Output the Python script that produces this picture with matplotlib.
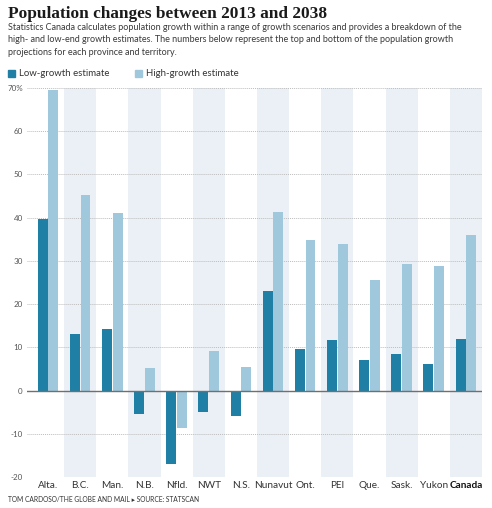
import matplotlib
matplotlib.use("Agg")
import matplotlib.pyplot as plt
import numpy as np

categories = ["Alta.", "B.C.", "Man.", "N.B.", "Nfld.", "NWT", "N.S.", "Nunavut",
              "Ont.", "PEI", "Que.", "Sask.", "Yukon", "Canada"]
low_growth = [39.7, 13.0, 14.2, -5.4, -17.0, -4.9, -6.0, 23.0, 9.6, 11.6, 7.0, 8.5, 6.2, 12.0]
high_growth = [69.6, 45.2, 41.1, 5.3, -8.7, 9.2, 5.5, 41.4, 34.9, 33.8, 25.5, 29.2, 28.9, 36.1]
y_ticks = [-20, -10, 0, 10, 20, 30, 40, 50, 60, 70]
y_tick_labels = ["-20", "-10", "0", "10", "20", "30", "40", "50", "60", "70%"]

LOW = "#1f7fa5"
HIGH = "#9fc8dc"
BAND = "#eaf0f5"
BODY = "Lato"

W, H = 492, 508
fig = plt.figure(figsize=(W / 100, H / 100), dpi=100)
fig.patch.set_facecolor("white")
renderer = fig.canvas.get_renderer()


def fit_text(xpx, ypx, s, target_px, **kw):
    t = fig.text(xpx / W, 1 - ypx / H, s, **kw)
    w = t.get_window_extent(renderer).width
    t.set_fontsize(t.get_fontsize() * target_px / w)
    return t


ax_left, ax_right = 27 / W, 482 / W
ax_top, ax_bot = 1 - 88 / H, 1 - 477 / H
ax = fig.add_axes([ax_left, ax_bot, ax_right - ax_left, ax_top - ax_bot])

x = np.arange(len(categories))
for i in x:
    if i % 2 == 1:
        ax.axvspan(i - 0.5, i + 0.5, color=BAND, zorder=0, lw=0)

for yv in y_ticks:
    if yv == 0:
        continue
    ax.axhline(yv, color="#bdbdbd", lw=0.7, ls=(0, (1, 1)), zorder=1)
ax.axhline(0, color="#707070", lw=1.0, zorder=3)

bw = 0.31
ax.bar(x - 0.165, low_growth, bw, color=LOW, zorder=2)
ax.bar(x + 0.165, high_growth, bw, color=HIGH, zorder=2)

ax.set_xlim(-0.655, 13.5)
ax.set_ylim(-20, 70)
ax.set_yticks(y_ticks)
ax.set_yticklabels(y_tick_labels, family=BODY)
ax.set_xticks(x)
ax.set_xticklabels(categories, family=BODY)
ax.tick_params(axis="y", length=0, pad=3, labelsize=5.8, labelcolor="#555555")
ax.tick_params(axis="x", length=0, pad=3, labelsize=7.2, labelcolor="#333333")
for lbl in ax.get_xticklabels():
    if lbl.get_text() == "Canada":
        lbl.set_fontweight("bold")
        lbl.set_color("#111111")
for s in ax.spines.values():
    s.set_visible(False)

# Title and subtitle
fig.text(8 / W, 1 - 13.5 / H, "Population changes between 2013 and 2038",
         fontsize=12.4, fontweight="bold", family="Liberation Serif",
         va="center", ha="left", color="#1a1a1a")
sub_lines = ["Statistics Canada calculates population growth within a range of growth scenarios and provides a breakdown of the",
             "high- and low-end growth estimates. The numbers below represent the top and bottom of the population growth",
             "projections for each province and territory."]
t0 = fit_text(8, 27.5, sub_lines[0], 451, fontsize=6.5, family=BODY,
              va="center", ha="left", color="#3a3a3a")
fs = t0.get_fontsize()
for k, line in enumerate(sub_lines[1:], start=1):
    fig.text(8 / W, 1 - (27.5 + 12.3 * k) / H, line, fontsize=fs, family=BODY,
             va="center", ha="left", color="#3a3a3a")

# Legend
for xs, col, lab in [(8, LOW, "Low-growth estimate"), (135, HIGH, "High-growth estimate")]:
    fig.patches.append(plt.Rectangle((xs / W, 1 - 77 / H), 7 / W, 7 / H,
                                     transform=fig.transFigure, color=col))
    fig.text((xs + 11) / W, 1 - 73.5 / H, lab, fontsize=fs * 1.08, family=BODY,
             va="center", ha="left", color="#333333")

# Footer
fit_text(8, 500, "TOM CARDOSO/THE GLOBE AND MAIL \u25B8 SOURCE: STATSCAN", 190,
         fontsize=4.8, family=[BODY, "DejaVu Sans"], va="center", ha="left", color="#333333")

fig.savefig("out.png", dpi=100, facecolor="white")
